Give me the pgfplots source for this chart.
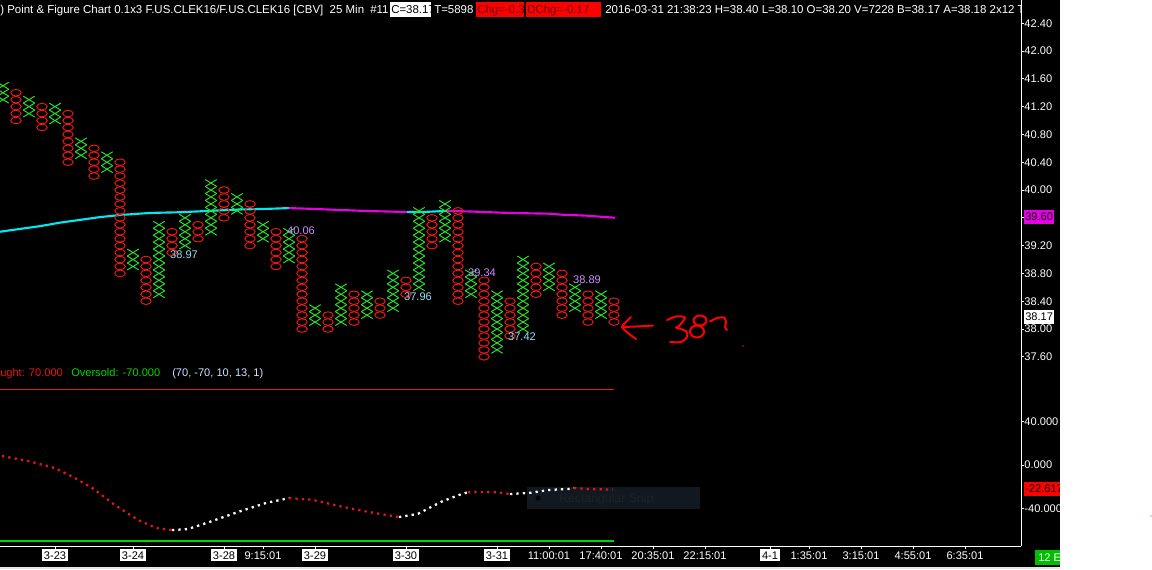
\documentclass[border=0pt]{standalone}
\usepackage{pgfplots}
\pgfplotsset{compat=1.18}
\usepackage{fontspec}
\setmainfont{Liberation Sans}

\definecolor{pfgreen}{RGB}{40,230,40}
\definecolor{pfred}{RGB}{240,24,24}
\definecolor{macyan}{RGB}{0,232,240}
\definecolor{mamag}{RGB}{230,0,230}
\definecolor{hilab}{RGB}{205,140,255}
\definecolor{lolab}{RGB}{150,222,250}
\definecolor{osred}{RGB}{235,20,20}
\definecolor{osgreen}{RGB}{0,215,0}
\definecolor{snipbg}{RGB}{17,24,32}
\definecolor{sniptx}{RGB}{30,34,40}
\definecolor{chgtx}{RGB}{110,0,0}
\definecolor{parm}{RGB}{205,225,255}

\newcommand\f{\fontsize{8.3}{10}\selectfont}
\newcommand\ft{\fontsize{8.6}{10}\selectfont}
\newcommand\dl[1]{{\setlength{\fboxsep}{1.5pt}\colorbox{white}{\textcolor{black}{#1}}}}
\newcommand\tl[1]{{\setlength{\fboxsep}{1.5pt}\colorbox{black}{#1}}}

% wide X and O for the point & figure boxes
\pgfdeclareplotmark{pfx}{%
  \pgfpathmoveto{\pgfqpoint{-1.65\pgfplotmarksize}{-\pgfplotmarksize}}%
  \pgfpathlineto{\pgfqpoint{1.65\pgfplotmarksize}{\pgfplotmarksize}}%
  \pgfpathmoveto{\pgfqpoint{-1.65\pgfplotmarksize}{\pgfplotmarksize}}%
  \pgfpathlineto{\pgfqpoint{1.65\pgfplotmarksize}{-\pgfplotmarksize}}%
  \pgfusepathqstroke}
\pgfdeclareplotmark{pfo}{%
  \pgfpathellipse{\pgfpointorigin}{\pgfqpoint{1.5\pgfplotmarksize}{0pt}}{\pgfqpoint{0pt}{0.95\pgfplotmarksize}}%
  \pgfusepathqstroke}

\begin{document}
\begin{tikzpicture}
\useasboundingbox (0,0) rectangle (864pt,-426.75pt);
\fill[black] (0,0) rectangle (795pt,-426.75pt);

\begin{scope}[x=0.75pt,y=-0.75pt]
  \fill[snipbg] (527,487) rectangle (700,509);
  \fill[black!80!snipbg] (538,498) circle (2.5);
  \node[anchor=base west, inner sep=0pt, text=sniptx, font=\fontsize{9.2}{11}\selectfont] at (559,502) {Rectangular Snip};
\end{scope}

% ---------- price panel ----------
\begin{axis}[
  at={(0pt,-291.75pt)}, anchor=south west,
  width=765.75pt, height=291.75pt, scale only axis,
  xmin=-0.2308, xmax=78.3077, ymin=37.1367, ymax=42.7338,
  axis x line=none, axis y line*=right,
  axis line style={white, line width=0.75pt},
  xtick=\empty,
  ytick={37.6,38.0,38.4,38.8,39.2,39.6,40.0,40.4,40.8,41.2,41.6,42.0,42.4},
  tick align=outside, major tick length=2.4pt,
  tick style={white, line width=0.75pt},
  yticklabel={\pgfmathprintnumber[fixed,fixed zerofill,precision=2,assume math mode=true]{\tick}},
  yticklabel style={font=\f, text=white, inner sep=0pt, anchor=west},
]
% X columns
\addplot[only marks, mark=pfx, mark size=2.6pt, pfgreen, line width=0.7pt] coordinates {
(0,41.3)(0,41.4)(0,41.5)
(2,41.1)(2,41.2)(2,41.3)
(4,41.0)(4,41.1)(4,41.2)
(6,40.5)(6,40.6)(6,40.7)
(8,40.3)(8,40.4)(8,40.5)
(10,38.9)(10,39.0)(10,39.1)
(12,38.5)(12,38.6)(12,38.7)(12,38.8)(12,38.9)(12,39.0)(12,39.1)(12,39.2)(12,39.3)(12,39.4)(12,39.5)
(14,39.2)(14,39.3)(14,39.4)(14,39.5)(14,39.6)
(16,39.4)(16,39.5)(16,39.6)(16,39.7)(16,39.8)(16,39.9)(16,40.0)(16,40.1)
(18,39.7)(18,39.8)(18,39.9)
(20,39.3)(20,39.4)(20,39.5)
(22,39.0)(22,39.1)(22,39.2)(22,39.3)(22,39.4)
(24,38.1)(24,38.2)(24,38.3)
(26,38.1)(26,38.2)(26,38.3)(26,38.4)(26,38.5)(26,38.6)
(28,38.2)(28,38.3)(28,38.4)(28,38.5)
(30,38.3)(30,38.4)(30,38.5)(30,38.6)(30,38.7)(30,38.8)
(32,38.6)(32,38.7)(32,38.8)(32,38.9)(32,39.0)(32,39.1)(32,39.2)(32,39.3)(32,39.4)(32,39.5)(32,39.6)(32,39.7)
(34,39.3)(34,39.4)(34,39.5)(34,39.6)(34,39.7)(34,39.8)
(36,38.5)(36,38.6)(36,38.7)(36,38.8)
(38,37.7)(38,37.8)(38,37.9)(38,38.0)(38,38.1)(38,38.2)(38,38.3)(38,38.4)(38,38.5)
(40,38.0)(40,38.1)(40,38.2)(40,38.3)(40,38.4)(40,38.5)(40,38.6)(40,38.7)(40,38.8)(40,38.9)(40,39.0)
(42,38.6)(42,38.7)(42,38.8)(42,38.9)
(44,38.3)(44,38.4)(44,38.5)(44,38.6)
(46,38.2)(46,38.3)(46,38.4)(46,38.5)
};
% O columns
\addplot[only marks, mark=pfo, mark size=2.6pt, pfred, line width=0.7pt] coordinates {
(1,41.0)(1,41.1)(1,41.2)(1,41.3)(1,41.4)
(3,40.9)(3,41.0)(3,41.1)(3,41.2)
(5,40.4)(5,40.5)(5,40.6)(5,40.7)(5,40.8)(5,40.9)(5,41.0)(5,41.1)
(7,40.2)(7,40.3)(7,40.4)(7,40.5)(7,40.6)
(9,38.8)(9,38.9)(9,39.0)(9,39.1)(9,39.2)(9,39.3)(9,39.4)(9,39.5)(9,39.6)(9,39.7)(9,39.8)(9,39.9)(9,40.0)(9,40.1)(9,40.2)(9,40.3)(9,40.4)
(11,38.4)(11,38.5)(11,38.6)(11,38.7)(11,38.8)(11,38.9)(11,39.0)
(13,39.1)(13,39.2)(13,39.3)(13,39.4)
(15,39.3)(15,39.4)(15,39.5)
(17,39.6)(17,39.7)(17,39.8)(17,39.9)(17,40.0)
(19,39.2)(19,39.3)(19,39.4)(19,39.5)(19,39.6)(19,39.7)(19,39.8)
(21,38.9)(21,39.0)(21,39.1)(21,39.2)(21,39.3)(21,39.4)
(23,38.0)(23,38.1)(23,38.2)(23,38.3)(23,38.4)(23,38.5)(23,38.6)(23,38.7)(23,38.8)(23,38.9)(23,39.0)(23,39.1)(23,39.2)(23,39.3)
(25,38.0)(25,38.1)(25,38.2)
(27,38.1)(27,38.2)(27,38.3)(27,38.4)(27,38.5)
(29,38.2)(29,38.3)(29,38.4)
(31,38.5)(31,38.6)(31,38.7)
(33,39.2)(33,39.3)(33,39.4)(33,39.5)(33,39.6)
(35,38.4)(35,38.5)(35,38.6)(35,38.7)(35,38.8)(35,38.9)(35,39.0)(35,39.1)(35,39.2)(35,39.3)(35,39.4)(35,39.5)(35,39.6)(35,39.7)
(37,37.6)(37,37.7)(37,37.8)(37,37.9)(37,38.0)(37,38.1)(37,38.2)(37,38.3)(37,38.4)(37,38.5)(37,38.6)(37,38.7)
(39,37.9)(39,38.0)(39,38.1)(39,38.2)(39,38.3)(39,38.4)
(41,38.5)(41,38.6)(41,38.7)(41,38.8)(41,38.9)
(43,38.2)(43,38.3)(43,38.4)(43,38.5)(43,38.6)(43,38.7)(43,38.8)
(45,38.1)(45,38.2)(45,38.3)(45,38.4)(45,38.5)
(47,38.1)(47,38.2)(47,38.3)(47,38.4)
};
% moving average, cyan when rising, magenta when falling
\addplot[macyan, line width=1.6pt, no marks] coordinates {
(-0.23,39.40)(1.31,39.44)(2.85,39.48)(4.38,39.53)(5.92,39.57)(7.46,39.61)(9.0,39.64)
(11.31,39.67)(13.62,39.68)(15.92,39.70)(18.23,39.72)(20.54,39.73)(22.0,39.74)};
\addplot[mamag, line width=1.6pt, no marks] coordinates {
(22.0,39.74)(24.0,39.727)(26.0,39.712)(28.0,39.698)(31.08,39.683)};
\addplot[macyan, line width=1.6pt, no marks] coordinates {
(31.08,39.683)(32.5,39.685)(34.15,39.70)};
\addplot[mamag, line width=1.6pt, no marks] coordinates {
(34.15,39.70)(36.08,39.69)(38.85,39.67)(42.08,39.659)(43.0,39.645)(45.0,39.63)(46.0,39.615)(47.08,39.601)};
\end{axis}

% ---------- oscillator panel ----------
\begin{axis}[
  at={(0pt,-409.5pt)}, anchor=south west,
  width=765.75pt, height=117.75pt, scale only axis,
  xmin=-0.2308, xmax=78.3077, ymin=-74.65, ymax=70.05,
  axis x line*=bottom, axis y line*=right,
  axis line style={white, line width=0.75pt},
  tick align=outside, major tick length=2.4pt,
  tick style={white, line width=0.75pt},
  xtick={4,10,17,20,24,31,38,42,46,50,54,59,62,66,70,74},
  xticklabels={\dl{3-23},\dl{3-24},\dl{3-28},\tl{9:15:01},\dl{3-29},\dl{3-30},\dl{3-31},
    \tl{11:00:01},\tl{17:40:01},\tl{20:35:01},\tl{22:15:01},\dl{4-1},\tl{1:35:01},
    \tl{3:15:01},\tl{4:55:01},\tl{6:35:01}},
  xticklabel style={font=\f, text=white, inner sep=0pt, anchor=north},
  ytick={-40,0,40},
  yticklabel={\pgfmathprintnumber[fixed,fixed zerofill,precision=3,assume math mode=true]{\tick}},
  yticklabel style={font=\f, text=white, inner sep=0pt, anchor=west},
  clip=false,
]
\addplot[osred, line width=0.8pt, no marks] coordinates {(-0.23,70)(47.0,70)};
\addplot[osgreen, line width=1.2pt, no marks] coordinates {(-0.23,-70)(47.0,-70)};
\addplot[osred, line width=1.7pt, dash pattern=on 1.7pt off 3.1pt, no marks] coordinates {
(-0.08,8.3)(1.92,3.7)(4.0,-2.8)(5.38,-11)(6.85,-21)(8.62,-37)(10.38,-50.6)(11.77,-58)(13.0,-60)};
\addplot[white, line width=1.7pt, dash pattern=on 1.7pt off 3.1pt, no marks] coordinates {
(13.0,-60)(14.23,-59)(16.0,-52)(18.15,-43)(20.23,-35)(22.0,-30.5)};
\addplot[osred, line width=1.7pt, dash pattern=on 1.7pt off 3.1pt, no marks] coordinates {
(22.0,-30.5)(23.77,-32)(25.92,-38)(28.0,-43)(30.46,-48)};
\addplot[white, line width=1.7pt, dash pattern=on 1.7pt off 3.1pt, no marks] coordinates {
(30.46,-48)(31.92,-45)(33.69,-34)(35.08,-27.6)(35.77,-25)};
\addplot[osred, line width=1.7pt, dash pattern=on 1.7pt off 3.1pt, no marks] coordinates {
(35.77,-25)(36.8,-24.9)(37.9,-25.2)(38.46,-25.8)(39.0,-26.7)};
\addplot[white, line width=1.7pt, dash pattern=on 1.7pt off 3.1pt, no marks] coordinates {
(39.0,-26.7)(40.46,-25.8)(42.0,-23)(43.46,-22.1)(43.92,-21.2)};
\addplot[osred, line width=1.7pt, dash pattern=on 1.7pt off 3.1pt, no marks] coordinates {
(43.92,-21.2)(45.0,-22.1)(46.92,-22.6)};
\end{axis}

\begin{scope}[x=0.75pt,y=-0.75pt, every node/.style={inner sep=0pt, font=\f}]
  % title bar
  \begin{scope}[every node/.style={inner sep=0pt, font=\ft}]
  \clip (0,0) rectangle (1020,19);
  \node[anchor=base west, text=white] at (0,13) {) Point \& Figure Chart 0.1x3 F.US.CLEK16/F.US.CLEK16 [CBV]\ \ 25 Min};
  \node[anchor=base west, text=white] at (370,13) {\#11};
  \fill[white] (390,2) rectangle (431,17);
  \node[anchor=base west, text=black] at (391,13) {C=38.17};
  \node[anchor=base west, text=white] at (434,13) {T=5898};
  \fill[red] (476,2) rectangle (524,17);
  \node[anchor=base west, text=chgtx] at (477,13) {Chg=-0.33};
  \fill[red] (526,2) rectangle (601,17);
  \node[anchor=base west, text=chgtx] at (527,13) {DChg=-0.17};
  \node[anchor=base west, text=white] at (605,13) {2016-03-31 21:38:23 H=38.40 L=38.10 O=38.20 V=7228 B=38.17 A=38.18 2x12 TR};
  \end{scope}
  % column labels
  \node[text=lolab] at (184,255) {38.97};
  \node[text=hilab] at (301,231) {40.06};
  \node[text=lolab] at (418,297) {37.96};
  \node[text=hilab] at (482,273) {39.34};
  \node[text=lolab] at (522,337) {37.42};
  \node[text=hilab] at (587,280) {38.89};
  % last value boxes on the price scale
  \fill[mamag] (1024,210) rectangle (1054,224);
  \node[anchor=west, text=black] at (1025,217) {39.60};
  \fill[white] (1024,310) rectangle (1054,324);
  \node[anchor=west, text=black] at (1025,317) {38.17};
  \fill[red] (1024,482) rectangle (1062,496);
  \node[anchor=west, text=black] at (1025,489) {-22.617};
  % oscillator header
  \node[anchor=base west, text=osred] at (0,376) {ught: 70.000};
  \node[anchor=base west, text=osgreen] at (71,376) {Oversold: -70.000};
  \node[anchor=base west, text=parm] at (172,376) {(70, -70, 10, 13, 1)};
  % status box
  \fill[green!75!black] (1035,550) rectangle (1062,565);
  \node[anchor=west, text=white] at (1038,557.5) {12 E};
  \fill[black!10] (0,566.5) rectangle (1060,569);
  % hand-written note
  \begin{scope}[red, line width=1.5pt, line cap=round, line join=round]
    \draw plot[smooth] coordinates {(631,317)(626,322)(622,327)(628,333)(636,339)};
    \draw plot[smooth] coordinates {(622,327)(636,326.5)(646,326)(653,325.5)};
    \draw plot[smooth] coordinates {(667,320)(676,316.5)(685,317.5)(679,326)(676,327.5)(686,331)(687,337)(681,342)(670,342)};
    \draw (700,320.5) ellipse (6.5 and 5);
    \draw (697,331.5) ellipse (7 and 6);
    \draw plot[smooth] coordinates {(710,321.5)(717,318)(724,317.5)(726,322)(725,327)(727,330)};
    \fill (743,346) circle (0.8);
  \end{scope}
  % white margin at the right
  \fill[white] (1060,0) rectangle (1152,569);
  \fill[red] (1151,516) circle (0.6);
\end{scope}
\end{tikzpicture}
\end{document}
